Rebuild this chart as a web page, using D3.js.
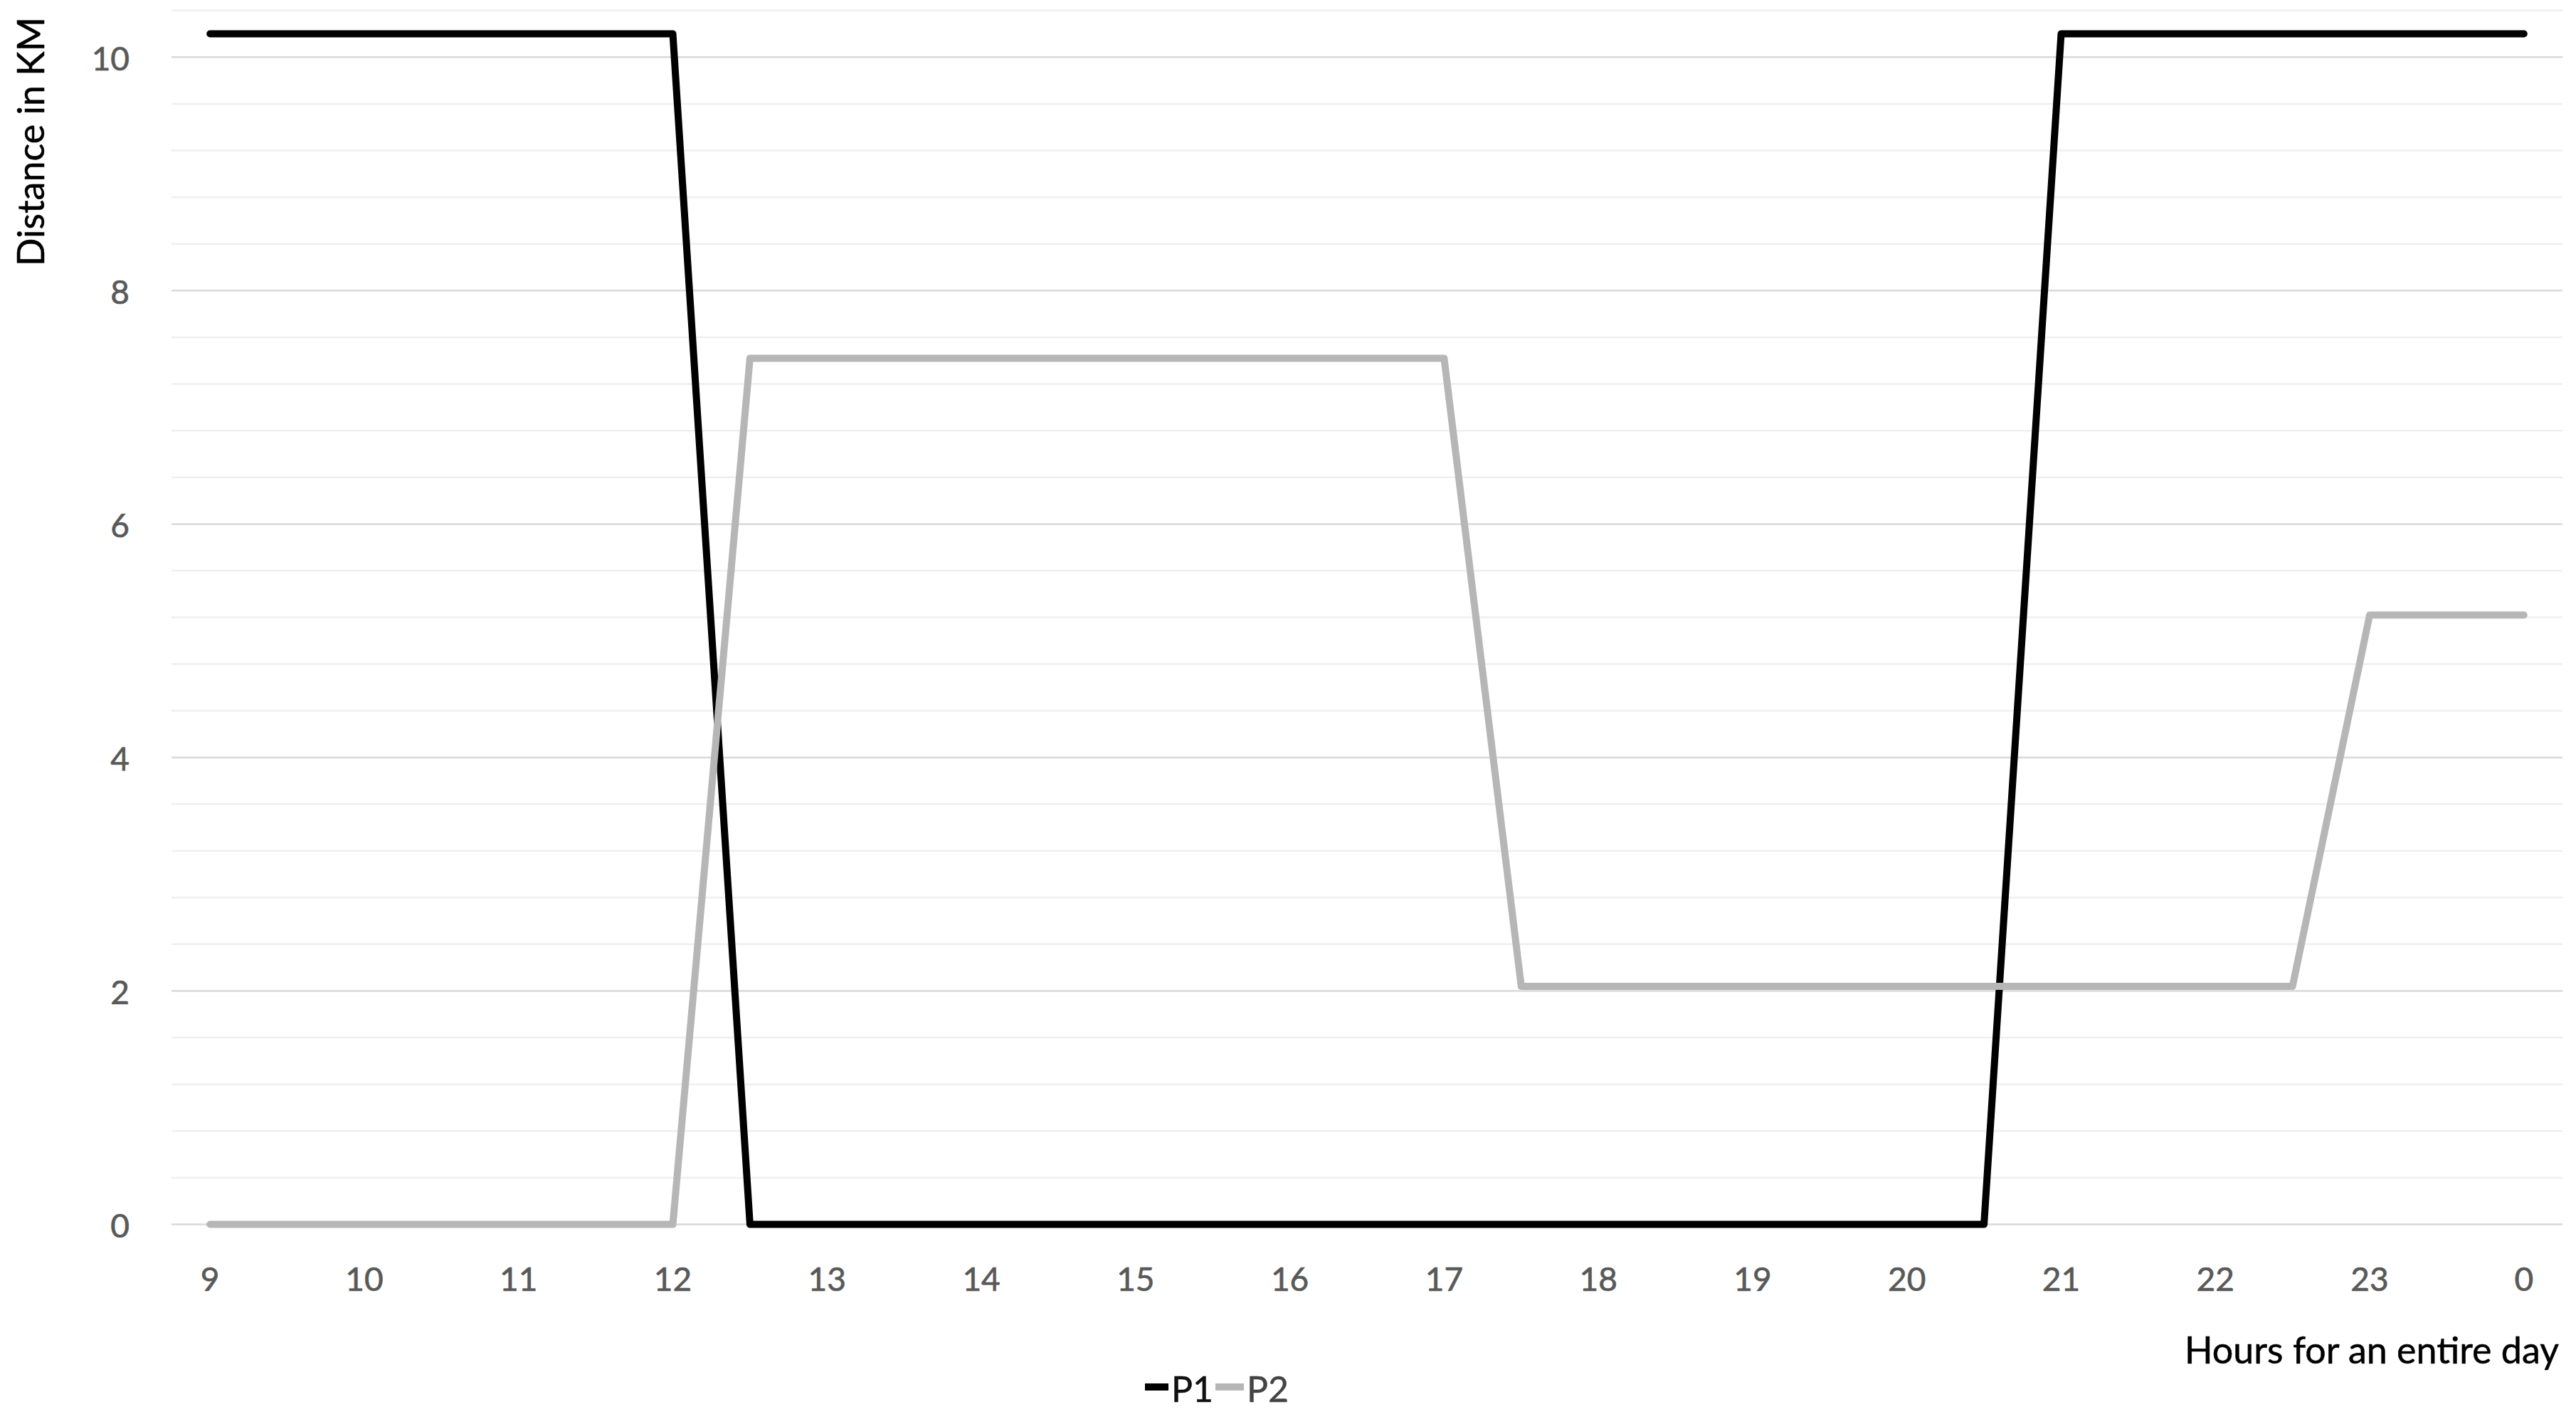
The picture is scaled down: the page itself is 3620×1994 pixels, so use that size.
<!DOCTYPE html>
<html><head><meta charset="utf-8">
<script src="https://cdn.jsdelivr.net/npm/d3@7"></script>
<style>html,body{margin:0;padding:0;background:#fff} svg{display:block}</style>
</head><body>
<script>
// Half-hour categories; only whole hours are labelled
const categories = ["9","9:30","10","10:30","11","11:30","12","12:30","13","13:30","14","14:30","15","15:30","16","16:30","17","17:30","18","18:30","19","19:30","20","20:30","21","21:30","22","22:30","23","23:30","0"];
const p1 = [10.2,10.2,10.2,10.2,10.2,10.2,10.2, 0,0,0,0,0,0,0,0,0,0,0,0,0,0,0,0,0, 10.2,10.2,10.2,10.2,10.2,10.2,10.2];
const p2 = [0,0,0,0,0,0,0, 7.42,7.42,7.42,7.42,7.42,7.42,7.42,7.42,7.42,7.42, 2.04,2.04,2.04,2.04,2.04,2.04,2.04,2.04,2.04,2.04,2.04, 5.22,5.22,5.22];
const yMajorTicks = [0,2,4,6,8,10];
const seriesNames = ["P1","P2"];
const seriesColors = ["#000000","#b6b6b6"];
const xTitle = "Hours for an entire day";
const yTitle = "Distance in KM";

const W = 3620, H = 1994;
const FONT = "Lato, 'Open Sans', sans-serif";
const svg = d3.select("body").append("svg").attr("width", W).attr("height", H)
  .style("font-family", FONT);

const x = d3.scaleBand().domain(categories).range([241, 3601]);
const y = d3.scaleLinear().domain([0, 10.4]).range([1720.5, 14.7]);
const cx = c => x(c) + x.bandwidth() / 2;

// gridlines: minor every 0.4, major every 2
const minor = d3.range(0, 10.41, 0.4).map(v => +v.toFixed(1)).filter(v => Math.abs(v / 2 - Math.round(v / 2)) > 1e-6);
svg.append("g").selectAll("line").data(minor).join("line")
  .attr("x1", 241).attr("x2", 3601)
  .attr("y1", d => y(d)).attr("y2", d => y(d))
  .attr("stroke", "#efefef").attr("stroke-width", 2.5);
svg.append("g").selectAll("line").data(yMajorTicks).join("line")
  .attr("x1", 241).attr("x2", 3601)
  .attr("y1", d => y(d)).attr("y2", d => y(d))
  .attr("stroke", "#d9d9d9").attr("stroke-width", 2.5);

// y axis
const gy = svg.append("g").attr("transform", "translate(241,0)")
  .call(d3.axisLeft(y).tickValues(yMajorTicks).tickSize(0).tickPadding(59).tickFormat(d3.format("d")));
gy.select(".domain").remove();
gy.selectAll("text").attr("font-size", 46).attr("fill", "#595959").attr("font-family", FONT).attr("dy", "0.4em")
  .attr("stroke", "#595959").attr("stroke-width", 0.7);

// x axis
const gx = svg.append("g").attr("transform", "translate(0,1720.5)")
  .call(d3.axisBottom(x).tickValues(categories.filter(c => c.indexOf(":") < 0)).tickSize(0));
gx.select(".domain").remove();
gx.selectAll("text").attr("font-size", 46).attr("fill", "#595959").attr("font-family", FONT)
  .attr("y", 77).attr("dy", "0.36em").attr("stroke", "#595959").attr("stroke-width", 0.7);

// lines
const line = d3.line().x((d, i) => cx(categories[i])).y(d => y(d));
[p1, p2].forEach((s, k) => {
  svg.append("path").datum(s).attr("d", line)
    .attr("fill", "none").attr("stroke", seriesColors[k]).attr("stroke-width", 10)
    .attr("stroke-linejoin", "round").attr("stroke-linecap", "round");
});

// axis titles
svg.append("text").attr("x", 3596).attr("y", 1916).attr("text-anchor", "end")
  .attr("font-size", 52).attr("fill", "#000").attr("stroke", "#000").attr("stroke-width", 0.5).text(xTitle);
svg.append("text").attr("transform", "translate(62,199) rotate(-90)").attr("text-anchor", "middle")
  .attr("font-size", 52).attr("fill", "#000").attr("stroke", "#000").attr("stroke-width", 0.5).text(yTitle);

// legend
const legend = svg.append("g");
const legendItems = [
  {x1: 1609, x2: 1642, tx: 1646, fill: "#111"},
  {x1: 1708, x2: 1748, tx: 1752, fill: "#444"}
];
legendItems.forEach((it, k) => {
  legend.append("line").attr("x1", it.x1).attr("x2", it.x2).attr("y1", 1949).attr("y2", 1949)
    .attr("stroke", seriesColors[k]).attr("stroke-width", 10);
  legend.append("text").attr("x", it.tx).attr("y", 1970).attr("font-size", 50)
    .attr("fill", it.fill).attr("stroke", it.fill).attr("stroke-width", 0.5).text(seriesNames[k]);
});
</script>
</body></html>
